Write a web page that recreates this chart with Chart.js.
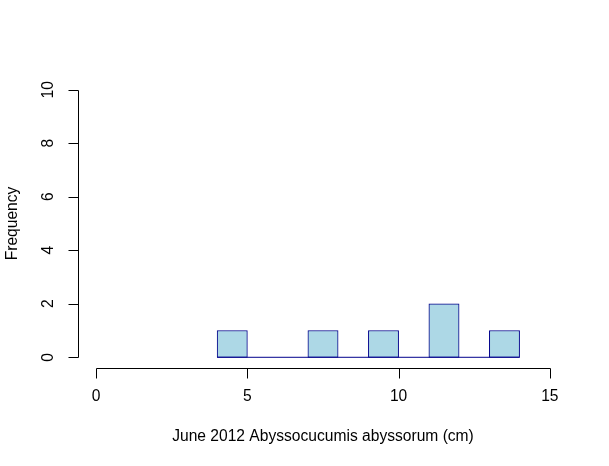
<!DOCTYPE html>
<html>
<head>
<meta charset="utf-8">
<script src="https://cdn.jsdelivr.net/npm/chart.js@4"></script>
<style>
  body { margin: 0; background: #fff; }
  canvas { display: block; }
</style>
</head>
<body>
<canvas id="hist" width="609" height="466"></canvas>
<script>
// histogram data (bin edges and counts)
const breaks = [4, 5, 6, 7, 8, 9, 10, 11, 12, 13, 14];
const counts = [1, 0, 0, 1, 0, 1, 0, 2, 0, 1];

// axis ticks
const xTicks = [0, 5, 10, 15];
const yTicks = [0, 2, 4, 6, 8, 10];

const xTitle = 'June 2012 Abyssocucumis abyssorum (cm)';
const yTitle = 'Frequency';

const barData = counts.map((c, i) => ({ x: (breaks[i] + breaks[i + 1]) / 2, y: c }));
const baseLine = [{ x: breaks[0], y: 0 }, { x: breaks[breaks.length - 1], y: 0 }];

const FONT = '15.6px "Liberation Sans", Arial, sans-serif';

// R-style axes drawn after the chart
const rAxes = {
    id: 'rAxes',
    afterDraw(chart) {
        const c = chart.ctx;
        const xs = chart.scales.x;
        const ys = chart.scales.y;
        const area = chart.chartArea;
        c.save();
        c.strokeStyle = '#000';
        c.fillStyle = '#000';
        c.lineWidth = 1;
        c.font = FONT;

        // x axis
        const ax = Math.round(area.bottom) + 0.5;
        const x0 = Math.round(xs.getPixelForValue(xTicks[0])) + 0.5;
        const x1 = Math.round(xs.getPixelForValue(xTicks[xTicks.length - 1])) + 0.5;
        c.beginPath();
        c.moveTo(x0, ax);
        c.lineTo(x1, ax);
        xTicks.forEach(t => {
            const px = Math.round(xs.getPixelForValue(t)) + 0.5;
            c.moveTo(px, ax);
            c.lineTo(px, ax + 10);
        });
        c.stroke();
        c.textAlign = 'center';
        c.textBaseline = 'middle';
        xTicks.forEach(t => {
            c.fillText(String(t), xs.getPixelForValue(t), ax + 28);
        });
        c.fillText(xTitle, (area.left + area.right) / 2, 437);

        // y axis
        const ay = Math.round(area.left) + 0.5;
        const y0 = Math.round(ys.getPixelForValue(yTicks[0])) + 0.5;
        const y1 = Math.round(ys.getPixelForValue(yTicks[yTicks.length - 1])) + 0.5;
        c.beginPath();
        c.moveTo(ay, y0);
        c.lineTo(ay, y1);
        yTicks.forEach(t => {
            const py = Math.round(ys.getPixelForValue(t)) + 0.5;
            c.moveTo(ay, py);
            c.lineTo(ay - 10, py);
        });
        c.stroke();
        yTicks.forEach(t => {
            c.save();
            c.translate(ay - 30, ys.getPixelForValue(t));
            c.rotate(-Math.PI / 2);
            c.fillText(String(t), 0, 0);
            c.restore();
        });
        c.save();
        c.translate(13, (area.top + area.bottom) / 2);
        c.rotate(-Math.PI / 2);
        c.fillText(yTitle, 0, 0);
        c.restore();

        c.restore();
    }
};

const ctx = document.getElementById('hist').getContext('2d');
const histChart = new Chart(ctx, {
    type: 'bar',
    data: {
        datasets: [{
            type: 'bar',
            data: barData,
            backgroundColor: '#ADD8E6',
            borderColor: '#00008B',
            borderWidth: 1,
            borderSkipped: false,
            barPercentage: 1,
            categoryPercentage: 1,
            order: 2
        }, {
            type: 'line',
            data: baseLine,
            borderColor: '#00008B',
            borderWidth: 1,
            pointRadius: 0,
            fill: false,
            order: 1
        }]
    },
    options: {
        responsive: false,
        animation: false,
        events: [],
        layout: { padding: { left: 78, right: 41, top: 79, bottom: 98 } },
        plugins: {
            legend: { display: false },
            tooltip: { enabled: false }
        },
        scales: {
            x: { type: 'linear', min: -0.6, max: 15.6, offset: false, display: false },
            y: { type: 'linear', min: -0.4, max: 10.4, display: false }
        }
    },
    plugins: [rAxes]
});
</script>
</body>
</html>
